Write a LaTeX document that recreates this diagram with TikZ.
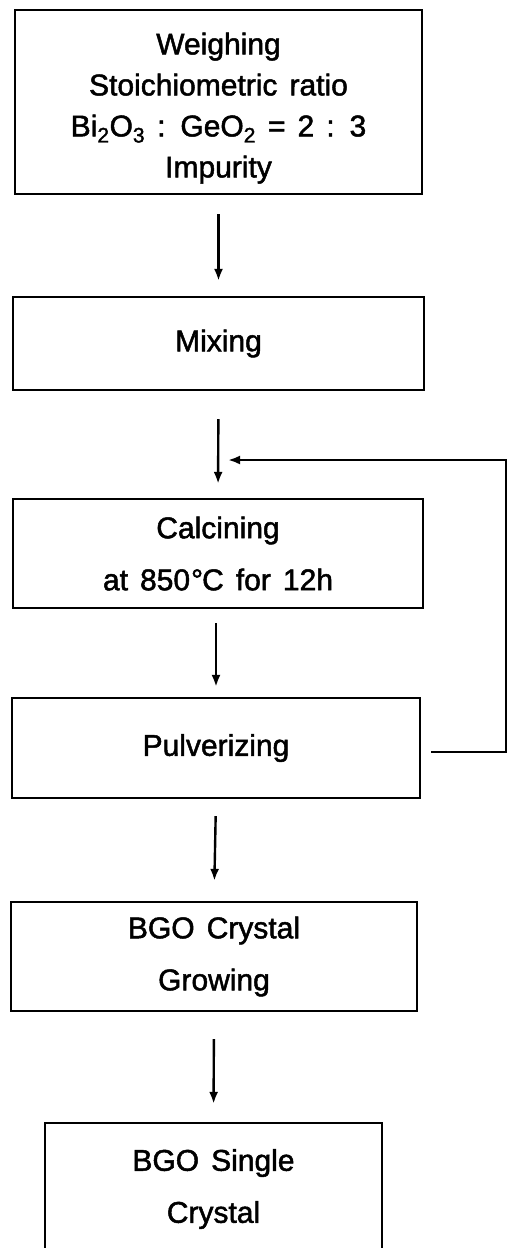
\documentclass[tikz,border=0pt]{standalone}
\usepackage{fontspec}
\setmainfont[WordSpace=1.45,FakeBold=1.6]{Liberation Sans}
\usetikzlibrary{arrows.meta}
\tikzset{
  procbox/.style={draw, line width=2.2pt, inner sep=0pt, align=center,
    font=\fontsize{30}{52}\selectfont},
  arr/.style={line width=2.4pt, -{Latex[length=12pt,width=9pt]}},
}
\begin{document}
\begin{tikzpicture}[x=1pt,y=-1pt]
\useasboundingbox (0,0) rectangle (510,1248);
\clip (0,0) rectangle (510,1248);
\node[procbox, minimum width=407pt, minimum height=184pt,
      font=\fontsize{30}{41}\selectfont] (b1) at (218.5,102)
  {\rule{0pt}{8pt}\\[-15pt]Weighing\\Stoichiometric ratio\\Bi\textsubscript{2}O\textsubscript{3} : GeO\textsubscript{2} = 2 : 3\\Impurity};
\node[procbox, minimum width=411pt, minimum height=93pt] (b2) at (218.5,343.5) {Mixing};
\node[procbox, minimum width=410pt, minimum height=109pt] (b3) at (218,553.5)
  {Calcining\\at 850\kern1pt°\kern-1ptC for 12h};
\node[procbox, minimum width=408pt, minimum height=100pt] (b4) at (216,748) {Pulverizing};
\node[procbox, minimum width=406pt, minimum height=109pt] (b5) at (214,956.5)
  {BGO Crystal\\Growing};
\node[procbox, minimum width=337pt, minimum height=132pt] (b6) at (213.5,1189)
  {BGO Single\\Crystal};
\coordinate (fbR) at (506,460);
\coordinate (fbE) at (228,460);
\draw[arr, shorten <=19pt, shorten >=15pt] (b1.south) -- (b2.north);
\draw[arr, shorten <=28pt, shorten >=14pt] (b2.south) -- (b3.north);
\draw[arr, shorten <=14pt, shorten >=10pt] (b4.north |- b3.south) -- (b4.north);
\draw[arr, shorten <=17pt, shorten >=20pt] (b4.south) -- (b5.north);
\draw[arr, shorten <=27pt, shorten >=18pt] (b5.south) -- (b6.north);
\draw[arr] ([shift={(10pt,-4pt)}]b4.east) -| (fbR) -- (fbE);
\end{tikzpicture}
\end{document}
